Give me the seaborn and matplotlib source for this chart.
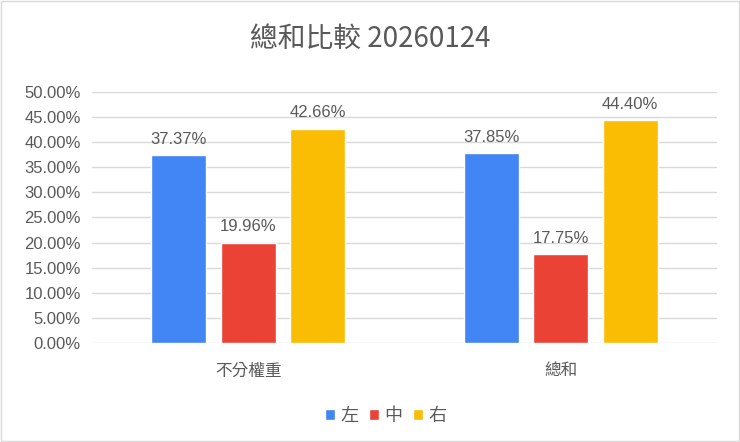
import matplotlib
matplotlib.use("Agg")
import matplotlib.pyplot as plt
import pandas as pd
import seaborn as sns
from matplotlib.ticker import PercentFormatter, MultipleLocator

# data
categories = ["不分權重", "總和"]
series = ["左", "中", "右"]
left_vals = [37.37, 37.85]
mid_vals = [19.96, 17.75]
right_vals = [42.66, 44.40]
colors = ["#4285F4", "#EA4335", "#FBBC04"]

df = pd.DataFrame({
    "category": categories * 3,
    "series": [s for s in series for _ in categories],
    "value": left_vals + mid_vals + right_vals,
})

sns.set_theme(style="white")
plt.rcParams["font.family"] = ["Liberation Sans", "Noto Sans CJK TC", "DejaVu Sans"]
text_c = "#595959"

fig = plt.figure(figsize=(7.4, 4.42), dpi=100)
ax = fig.add_axes([0.124, 0.224, 0.845, 0.568])

sns.barplot(data=df, x="category", y="value", hue="series", palette=colors,
            width=0.667, gap=0.21, ax=ax, legend=True, saturation=1)

for cont in ax.containers:
    ax.bar_label(cont, labels=[f"{v:.2f}%" for v in cont.datavalues],
                 padding=6, fontsize=12, color=text_c)

ax.set_ylim(0, 50)
ax.yaxis.set_major_locator(MultipleLocator(5))
ax.yaxis.set_major_formatter(PercentFormatter(decimals=2))
ax.grid(axis="y", color="#d9d9d9", linewidth=1)
ax.set_axisbelow(True)
for s in ax.spines.values():
    s.set_visible(False)
ax.tick_params(axis="both", length=0, labelsize=12, colors=text_c)
ax.tick_params(axis="y", pad=8)
ax.tick_params(axis="x", pad=14)
ax.set_xlabel("")
ax.set_ylabel("")
for t in ax.get_xticklabels():
    t.set_fontfamily(["Noto Sans CJK TC", "DejaVu Sans"])

fig.suptitle("總和比較 20260124", x=0.5, y=0.945, fontsize=20, color=text_c,
             fontfamily=["Noto Sans CJK TC", "DejaVu Sans"])

handles, labels = ax.get_legend_handles_labels()
ax.legend(handles, labels, loc="upper center", bbox_to_anchor=(0.47, -0.19),
          ncol=3, frameon=False, handlelength=0.55, handleheight=0.55,
          handletextpad=0.3, columnspacing=0.6,
          prop={"family": ["Noto Sans CJK TC", "DejaVu Sans"], "size": 13},
          labelcolor=text_c)

fig.patches.append(plt.Rectangle((0.002, 0.002), 0.996, 0.996, transform=fig.transFigure,
                                 fill=False, edgecolor="#d9d9d9", linewidth=1))

fig.savefig("out.png", dpi=100)
